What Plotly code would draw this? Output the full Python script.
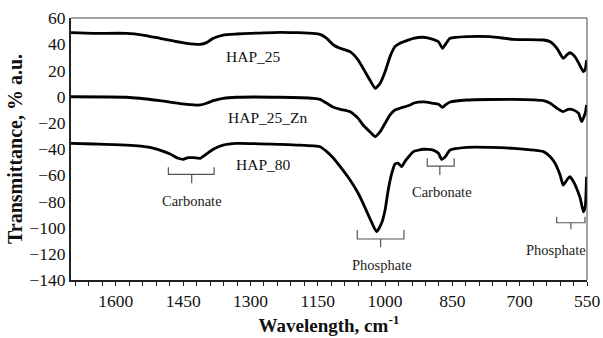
import plotly.graph_objects as go

# ---- data ----
wn_hap25 = [1700, 1650, 1576, 1540, 1502, 1472, 1442, 1412, 1398, 1383, 1361, 1331, 1300, 1234, 1197, 1160,
            1145, 1130, 1115, 1100, 1078, 1060, 1049, 1034, 1022, 1011, 1000, 989, 978, 967, 952, 937, 915,
            893, 881, 872, 864, 855, 818, 766, 714, 647, 632, 617, 603, 595, 588, 577, 569, 558, 554, 551]
t_hap25 = [48.8, 48.3, 48.3, 47.0, 44.5, 42.5, 40.7, 39.9, 41.2, 44.5, 47.0, 47.8, 48.3, 49.1, 48.8, 48.3,
           47.5, 44.5, 39.4, 36.9, 34.3, 27.9, 21.6, 12.7, 6.3, 10.2, 19.0, 30.5, 38.1, 40.7, 42.7, 44.5, 45.3,
           43.7, 41.9, 36.9, 40.7, 44.5, 45.8, 45.8, 43.7, 43.2, 41.9, 36.9, 29.2, 31.8, 33.6, 30.5, 25.9, 19.0, 20.8, 27.9]

wn_hap25zn = [1700, 1576, 1502, 1442, 1412, 1398, 1383, 1361, 1331, 1234, 1160, 1145, 1130, 1115, 1100, 1078,
              1060, 1049, 1034, 1022, 1011, 1000, 989, 978, 967, 944, 937, 915, 893, 881, 872, 864, 855, 818,
              714, 647, 632, 617, 603, 592, 580, 569, 562, 554, 551]
t_hap25zn = [-0.1, -0.5, -3.1, -5.9, -6.4, -5.1, -3.1, -1.3, -0.5, -0.5, -1.3, -2.1, -5.1, -8.2, -9.7, -11.5,
             -16.6, -21.7, -26.8, -30.6, -26.8, -20.4, -14.0, -10.2, -8.9, -6.4, -5.1, -4.1, -5.1, -5.9, -8.2, -5.9, -4.1, -2.6,
             -2.1, -3.1, -5.1, -8.9, -11.5, -9.7, -10.2, -12.7, -19.1, -12.7, -6.4]

wn_hap80 = [1700, 1650, 1576, 1524, 1502, 1479, 1461, 1450, 1439, 1427, 1412, 1398, 1383, 1361, 1331, 1234,
            1197, 1145, 1130, 1115, 1100, 1078, 1060, 1049, 1034, 1019, 1008, 1000, 993, 985, 978, 971, 963,
            956, 944, 937, 915, 893, 881, 874, 866, 855, 818, 766, 714, 647, 632, 621, 610, 603, 595, 588,
            580, 573, 565, 558, 554, 551]
t_hap80 = [-35.7, -36.2, -37.0, -38.7, -40.8, -43.8, -47.1, -47.9, -46.6, -46.6, -47.1, -43.8, -40.2, -37.0, -35.7, -36.5,
           -37.0, -38.3, -42.0, -47.1, -53.5, -63.7, -73.8, -81.5, -92.9, -103.1, -96.7, -86.5, -71.2, -58.5, -51.4, -50.8, -53.5,
           -49.6, -44.6, -42.0, -40.2, -40.8, -43.3, -47.9, -45.9, -40.8, -38.7, -38.7, -39.5, -42.0, -45.9, -51.0, -59.9, -67.6, -63.7, -61.2,
           -65.0, -70.1, -77.7, -87.9, -84.1, -61.2]

series_names = ["HAP_25", "HAP_25_Zn", "HAP_80"]
x_ticks = [1600, 1450, 1300, 1150, 1000, 850, 700, 550]

# labels: (text, x, y)
series_labels = [("HAP_25", 1294, 30.5), ("HAP_25_Zn", 1261, -15.8), ("HAP_80", 1271, -52.2)]
# band brackets: (text, x_left, x_right, x_center, y_top, y_mid, y_bottom, label_x, label_y)
bands = [
    ("Carbonate", 1483, 1381, 1431, -54.0, -59.3, -66.2, 1430, -79.5),
    ("Phosphate", 1062, 958, 1010, -101.8, -108.7, -115.0, 1008, -128.5),
    ("Carbonate", 906, 846, 878, -47.1, -53.0, -59.8, 873, -72.6),
    ("Phosphate", 617.5, 554.5, 586, -91.7, -96.3, -101.3, 618, -117.0),
]

FONT = "Liberation Serif, Times New Roman, serif"

fig = go.Figure()
for name, xs, ys in zip(series_names, [wn_hap25, wn_hap25zn, wn_hap80], [t_hap25, t_hap25zn, t_hap80]):
    fig.add_trace(go.Scatter(x=xs, y=ys, mode="lines", name=name,
                             line=dict(color="black", width=2.8, shape="spline", smoothing=0.5),
                             showlegend=False))

annotations = []
for text, x, y in series_labels:
    annotations.append(dict(x=x, y=y, xref="x", yref="y", text=text, showarrow=False,
                            font=dict(family=FONT, size=15.5, color="#111")))

shapes = []
for text, xl, xr, xc, yt, ym, yb, lx, ly in bands:
    shapes.append(dict(type="path", xref="x", yref="y",
                       path=f"M {xl},{yt} L {xl},{ym} L {xr},{ym} L {xr},{yt}",
                       line=dict(color="#555", width=1.2)))
    shapes.append(dict(type="line", xref="x", yref="y", x0=xc, x1=xc, y0=ym, y1=yb,
                       line=dict(color="#555", width=1.2)))
    annotations.append(dict(x=lx, y=ly, xref="x", yref="y", text=text, showarrow=False,
                            font=dict(family=FONT, size=14.5, color="#222")))

# frame: thin gray top and right border
shapes.append(dict(type="line", xref="paper", yref="paper", x0=0, x1=1, y0=1, y1=1,
                   line=dict(color="#444", width=1)))
shapes.append(dict(type="line", xref="paper", yref="paper", x0=1, x1=1, y0=0, y1=1,
                   line=dict(color="#444", width=1)))

fig.update_layout(
    width=603, height=338,
    margin=dict(l=71, r=16, t=18, b=58),
    paper_bgcolor="white", plot_bgcolor="white",
    font=dict(family=FONT, color="#111"),
    annotations=annotations, shapes=shapes,
    xaxis=dict(range=[1700, 550], tickvals=x_ticks, ticktext=[str(v) for v in x_ticks],
               automargin=False,
               ticks="outside", ticklen=4, tickwidth=1.2, tickcolor="#222",
               minor=dict(dtick=30, tick0=550, ticks="outside", ticklen=4, tickwidth=1.2, tickcolor="#222"),
               showline=True, linecolor="#222", linewidth=2, showgrid=False, zeroline=False,
               tickfont=dict(family=FONT, size=17.5, color="#111"),
               title=dict(text="<b>Wavelength, cm<sup>-1</sup></b>", standoff=9,
                          font=dict(family=FONT, size=19, color="#111"))),
    yaxis=dict(range=[-140, 60], dtick=20, tick0=0, ticks="", showline=True, linecolor="#222", linewidth=2,
               automargin=False,
               showgrid=False, zeroline=False,
               tickfont=dict(family=FONT, size=17.5, color="#111"),
               title=dict(text="<b>Transmittance, % a.u.</b>", standoff=1,
                          font=dict(family=FONT, size=20, color="#111"))),
)

fig.write_html("out.html")
